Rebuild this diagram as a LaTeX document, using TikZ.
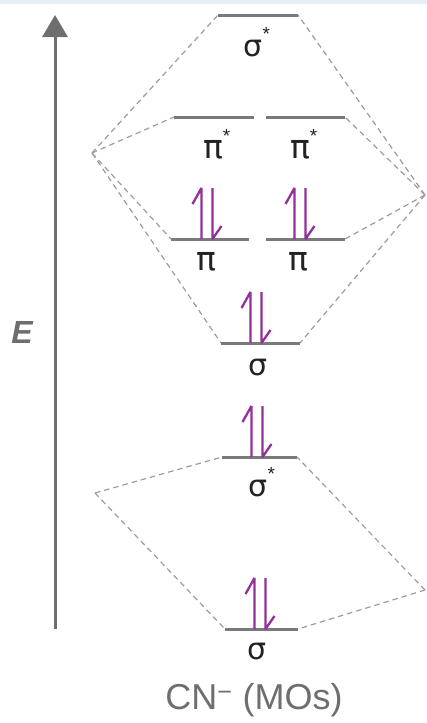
\documentclass[tikz,border=0pt]{standalone}
\usepackage{fontspec}
\setmainfont{Liberation Sans}
\newfontfamily\grk{DejaVu Sans}
\usetikzlibrary{arrows.meta}
\definecolor{lvl}{HTML}{7A7A7A}
\definecolor{dsh}{HTML}{9C9C9C}
\definecolor{spc}{HTML}{93309A}
\definecolor{axc}{HTML}{6E6E6E}
\definecolor{band}{HTML}{E4EEF7}
\definecolor{txt}{HTML}{222222}
\newcommand{\mystar}{\makebox[0pt][l]{\raisebox{16pt}{\fontsize{19}{19}\selectfont\rmfamily *}}}
\newcommand{\sg}{{\fontsize{30}{30}\selectfont σ}}
\newcommand{\pii}{{\fontsize{33}{33}\selectfont π}}
\begin{document}
\begin{tikzpicture}[x=1pt,y=-1pt,
  level/.style={draw=lvl,line width=3pt},
  conn/.style={draw=dsh,line width=1.2pt,dash pattern=on 5.5pt off 4pt},
  spin/.style={draw=spc,line width=2.3pt,line join=bevel},
  lab/.style={font=\grk,text=txt,inner sep=0pt,anchor=base},
  spins/.pic={
    \draw[spin] (-5.5,0) -- (-5.5,-51) -- (-14.5,-35);
    \draw[spin] (5.5,-51) -- (5.5,0) -- (14.5,-13);
  }]
\useasboundingbox (0,0) rectangle (427,723);
\fill[band] (0,0) rectangle (427,4);
% axis
\draw[draw=axc,line width=3pt,-{Triangle[length=22pt,width=25pt]}] (55,629) -- (55,15);
\node[font=\fontsize{32}{32}\selectfont\bfseries\itshape,text=axc] (E) at (22,332) {E};
% vertices
\coordinate (V1) at (92,153);
\coordinate (V2) at (425,195);
\coordinate (V3) at (95,493);
\coordinate (V4) at (425,590);
% levels
\coordinate (a1) at (218,15);  \coordinate (a2) at (298,15);
\coordinate (b1) at (174,117); \coordinate (b2) at (254,117);
\coordinate (c1) at (266,117); \coordinate (c2) at (345,117);
\coordinate (d1) at (171,239); \coordinate (d2) at (249,239);
\coordinate (e1) at (266,239); \coordinate (e2) at (345,239);
\coordinate (f1) at (221,343); \coordinate (f2) at (300,343);
\coordinate (g1) at (222,457); \coordinate (g2) at (297,457);
\coordinate (h1) at (225,629); \coordinate (h2) at (298,629);
% dashed connectors
\draw[conn] (V1) -- (a1);
\draw[conn] (V1) -- (b1);
\draw[conn] (V1) -- (d1);
\draw[conn] (V1) -- (f1);
\draw[conn] (V2) -- (a2);
\draw[conn] (V2) -- (c2);
\draw[conn] (V2) -- (e2);
\draw[conn] (V2) -- (f2);
\draw[conn] (V3) -- (g1);
\draw[conn] (V3) -- (h1);
\draw[conn] (V4) -- (g2);
\draw[conn] (V4) -- (h2);
\foreach \p/\q in {a1/a2,b1/b2,c1/c2,d1/d2,e1/e2,f1/f2,g1/g2,h1/h2}
  \draw[level] (\p) -- (\q);
% electrons
\pic at (207,239) {spins};
\pic at (300,239) {spins};
\pic at (256,343) {spins};
\pic at (257,457) {spins};
\pic at (260,629) {spins};
% labels
\node[lab] (la) at (253,56) {\sg\mystar};
\node[lab] (lb) at (213,158) {\pii\mystar};
\node[lab] (lc) at (300,158) {\pii\mystar};
\node[lab] (ld) at (206,270) {\pii};
\node[lab] (le) at (298,270) {\pii};
\node[lab] (lf) at (258,375) {\sg};
\node[lab] (lg) at (258,496) {\sg\mystar};
\node[lab] (lh) at (257,659) {\sg};
\node[font=\fontsize{36}{36}\selectfont,text=axc,inner sep=0pt] (cap) at (254,700) {CN\textsuperscript{−} (MOs)};
\end{tikzpicture}
\end{document}
